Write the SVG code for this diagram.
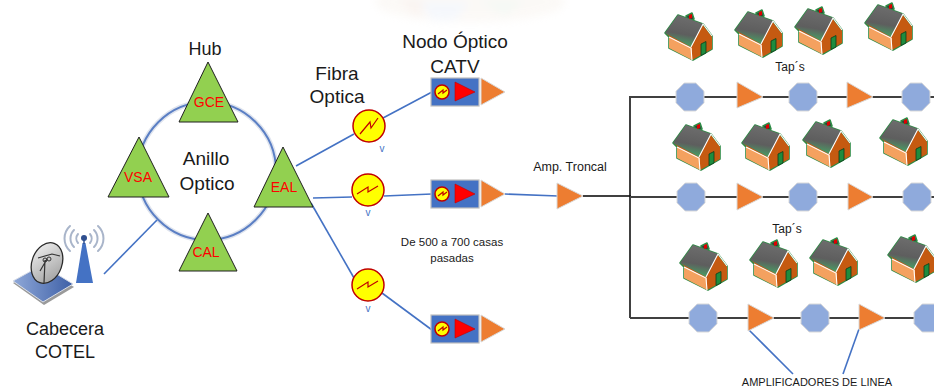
<svg xmlns="http://www.w3.org/2000/svg" width="934" height="389" viewBox="0 0 934 389">
  <style>
    text { font-family: "Liberation Sans", Arial, sans-serif; fill: #1a1a1a; }
    .mid { text-anchor: middle; }
    .big { font-size: 19px; }
    .hubtag { font-size: 14px; fill: #ff0000; text-anchor: middle; }
    .small { font-size: 12px; }
    .v { font-size: 10px; fill: #4472c4; text-anchor: middle; }
    .ring-halo { fill: none; stroke: #dfe4ee; stroke-width: 5; }
    .ring { fill: none; stroke: #5b7fc4; stroke-width: 2; }
    .hub { fill: #92d050; stroke: #1f1f1f; stroke-width: 1; }
    .fiber { fill: none; stroke: #4472c4; stroke-width: 1.6; }
    .coax { fill: none; stroke: #404040; stroke-width: 1.8; }
    .trunk { fill: none; stroke: #111; stroke-width: 1.6; }
    .rx { fill: #ffff00; stroke: #c00000; stroke-width: 1.5; }
    .zig { fill: none; stroke: #c00000; stroke-width: 1.2; }
    .amp { fill: #ed7d31; stroke: #d9d9d9; stroke-width: 1; }
    .tap { fill: #8faadc; stroke: #d9d9d9; stroke-width: 1; }
    .nodebox { fill: #4472c4; stroke: #bfbfbf; stroke-width: 1.2; }
    .wave { fill: none; stroke: #a9b5ca; stroke-width: 2; stroke-linecap: round; }
  </style>
  <defs>
    <linearGradient id="roofGrad" x1="0.6" y1="0" x2="0.4" y2="1">
      <stop offset="0" stop-color="#6e6e6e"/>
      <stop offset="0.6" stop-color="#5e5e5e"/>
      <stop offset="1" stop-color="#45a865"/>
    </linearGradient>
    <linearGradient id="dishGrad" x1="0" y1="0" x2="1" y2="1">
      <stop offset="0" stop-color="#f4f4f4"/>
      <stop offset="1" stop-color="#9a9a9a"/>
    </linearGradient>
    <linearGradient id="padGrad" x1="0" y1="0" x2="1" y2="0">
      <stop offset="0" stop-color="#8fa8d8"/>
      <stop offset="1" stop-color="#3d5fa6"/>
    </linearGradient>
    <filter id="haze" x="-20%" y="-50%" width="140%" height="200%">
      <feGaussianBlur stdDeviation="4"/>
    </filter>

    <!-- isometric house icon -->
    <symbol id="house" viewBox="0 0 52 56" width="52" height="56" overflow="visible">
      <g stroke="#2e8b46" stroke-width="1.6" stroke-linejoin="round">
        <path d="M23,10 L29,7 L31,13 L25,16 Z" fill="#3a3a3a"/>
        <path d="M2,27 L15,9 L40,18 L49,30 L49,43 L30,54 L6,42 L6,31 Z" fill="#c55a11"/>
      </g>
      <path d="M6,31 L29,42 L29,54 L6,42 Z" fill="#f4a15f"/>
      <path d="M29,42 L40,20 L49,31 L49,43 L29,54 Z" fill="#c55a11"/>
      <path d="M2,27 L15,9 L40,18 L28,41 Z" fill="url(#roofGrad)"/>
      <path d="M26,9 L29,8 L29,12 L26,13 Z" fill="#e00000"/>
      <path d="M28,41 L40,18 L49,30 M6,31 L28,42 L29,54" fill="none" stroke="#ffffff" stroke-width="1.1"/>
      <path d="M38,38 L43,35.5 L43,47 L38,49.5 Z" fill="#1e8c3e" stroke="#0b3d1a" stroke-width="0.8"/>
    </symbol>
  </defs>

  <rect width="934" height="389" fill="#ffffff"/>

  <!-- faint background emblem -->
  <g filter="url(#haze)" opacity="0.2">
    <ellipse cx="470" cy="2" rx="95" ry="20" fill="#efe3d6"/>
    <path d="M400,0 L425,0 L418,18 Z" fill="#e8c8b8"/>
    <path d="M420,2 L470,2 L455,20 L432,20 Z" fill="#cfdcf2"/>
    <path d="M478,0 L525,0 L505,16 Z" fill="#cfe2cf"/>
  </g>

  <!-- connectors -->
  <g id="connectors">
    <!-- optical ring -->
    <circle class="ring-halo" cx="207" cy="171" r="69"/>
    <circle class="ring" cx="207" cy="171" r="69"/>
    <!-- head-end to ring -->
    <line class="fiber" x1="104" y1="274" x2="157" y2="220"/>
    <!-- EAL to receivers -->
    <line class="fiber" x1="296" y1="166" x2="354" y2="134"/>
    <line class="fiber" x1="313" y1="198" x2="352" y2="197"/>
    <line class="fiber" x1="311" y1="203" x2="354" y2="278"/>
    <!-- receivers to nodes -->
    <line class="fiber" x1="383" y1="118" x2="432" y2="92"/>
    <line class="fiber" x1="384" y1="196" x2="432" y2="194"/>
    <line class="fiber" x1="382" y1="293" x2="432" y2="330"/>
    <!-- node to trunk amplifier -->
    <line class="fiber" x1="505" y1="194" x2="558" y2="196"/>
    <!-- trunk distribution -->
    <line class="coax" x1="583" y1="196" x2="631" y2="196"/>
    <line class="trunk" x1="630" y1="96" x2="630" y2="318"/>
    <line class="coax" x1="630" y1="97" x2="934" y2="97"/>
    <line class="coax" x1="630" y1="197" x2="934" y2="197"/>
    <line class="coax" x1="630" y1="318" x2="934" y2="318"/>
    <!-- line amplifier callouts -->
    <line class="fiber" x1="749" y1="330" x2="793" y2="374"/>
    <line class="fiber" x1="859" y1="329" x2="843" y2="374"/>
  </g>

  <!-- head-end -->
  <g id="cabecera">
    <path d="M13,283 L42,267 L74,287 L44,305 Z" fill="#9a9a9a"/>
    <path d="M13,281 L42,265 L73,284 L43,302 Z" fill="url(#padGrad)" stroke="#d8dde8" stroke-width="1"/>
    <ellipse cx="47" cy="263" rx="15" ry="21" transform="rotate(20 47 263)" fill="url(#dishGrad)" stroke="#2a2a2a" stroke-width="1.3"/>
    <path d="M38,258 L52,254 L60,256 M40,271 L47,259 M44,283 L45,260" fill="none" stroke="#333" stroke-width="1.2"/>
    <circle cx="45" cy="260" r="2" fill="none" stroke="#333" stroke-width="1"/>
    <circle cx="49" cy="259" r="2" fill="none" stroke="#333" stroke-width="1"/>
    <path d="M82.5,243 L85.5,243 L93,283 L76,283 Z" fill="#4472c4"/>
    <line x1="84" y1="238" x2="84" y2="244" stroke="#2f4f8f" stroke-width="1.5"/>
    <circle cx="84" cy="238" r="3" fill="#2f4f8f"/>
    <path class="wave" d="M78,234 A7,7 0 0 0 78,243"/>
    <path class="wave" d="M74,230 A12,12 0 0 0 74,247"/>
    <path class="wave" d="M70,226 A17,17 0 0 0 70,251"/>
    <path class="wave" d="M90,234 A7,7 0 0 1 90,243"/>
    <path class="wave" d="M94,230 A12,12 0 0 1 94,247"/>
    <path class="wave" d="M98,226 A17,17 0 0 1 98,251"/>
    <text class="big mid" x="65" y="335" style="font-size:18px">Cabecera</text>
    <text class="big mid" x="65" y="358" style="font-size:18px">COTEL</text>
  </g>

  <!-- hubs on the optical ring -->
  <g id="ring-label">
    <text class="mid" x="205" y="55" style="font-size:18px">Hub</text>
    <text class="big mid" x="206" y="165">Anillo</text>
    <text class="big mid" x="207" y="190">Optico</text>
  </g>
  <g id="hub-gce">
    <path class="hub" d="M208,62 L238,122 L179,122 Z"/>
    <text class="hubtag" x="209" y="107">GCE</text>
  </g>
  <g id="hub-vsa">
    <path class="hub" d="M139,137 L169,197 L108,197 Z"/>
    <text class="hubtag" x="138" y="182">VSA</text>
  </g>
  <g id="hub-eal">
    <path class="hub" d="M283,147 L313,207 L254,207 Z"/>
    <text class="hubtag" x="284" y="192">EAL</text>
  </g>
  <g id="hub-cal">
    <path class="hub" d="M208,213 L237,271 L179,271 Z"/>
    <text class="hubtag" x="206" y="257">CAL</text>
  </g>

  <!-- optical receivers -->
  <g id="fibra-label">
    <text class="big mid" x="337" y="80">Fibra</text>
    <text class="big mid" x="337" y="103">Optica</text>
  </g>
  <g id="rx-1">
    <circle class="rx" cx="369" cy="126" r="16"/>
    <path class="zig" d="M360,134 L370,122 L371,128 L378,118"/>
    <text class="v" x="382" y="152">v</text>
  </g>
  <g id="rx-2">
    <circle class="rx" cx="368" cy="190" r="16"/>
    <path class="zig" d="M357,194 L368,187 L368,192 L378,186"/>
    <text class="v" x="368" y="216">v</text>
  </g>
  <g id="rx-3">
    <circle class="rx" cx="368" cy="285" r="16"/>
    <path class="zig" d="M357,289 L368,282 L368,287 L378,281"/>
    <text class="v" x="368" y="312">v</text>
  </g>

  <!-- CATV optical nodes -->
  <g id="nodo-label">
    <text class="big mid" x="455" y="48">Nodo Óptico</text>
    <text class="big mid" x="455" y="73">CATV</text>
  </g>
  <g id="nodo-1" transform="translate(0,0)">
    <rect class="nodebox" x="431" y="78" width="48" height="28"/>
    <circle class="rx" cx="442" cy="92" r="7" stroke-width="1.2"/>
    <path class="zig" d="M438,94 L443,90 L443,93 L447,90" stroke-width="0.9"/>
    <path d="M455,82 L475,92 L455,101 Z" fill="#ff0000" stroke="#c00000" stroke-width="0.6"/>
    <path class="amp" d="M481,78 L505,92 L481,105 Z"/>
  </g>
  <g id="nodo-2" transform="translate(0,102)">
    <rect class="nodebox" x="431" y="78" width="48" height="28"/>
    <circle class="rx" cx="442" cy="92" r="7" stroke-width="1.2"/>
    <path class="zig" d="M438,94 L443,90 L443,93 L447,90" stroke-width="0.9"/>
    <path d="M455,82 L475,92 L455,101 Z" fill="#ff0000" stroke="#c00000" stroke-width="0.6"/>
    <path class="amp" d="M481,78 L505,92 L481,105 Z"/>
  </g>
  <g id="nodo-3" transform="translate(0,237)">
    <rect class="nodebox" x="431" y="78" width="48" height="28"/>
    <circle class="rx" cx="442" cy="92" r="7" stroke-width="1.2"/>
    <path class="zig" d="M438,94 L443,90 L443,93 L447,90" stroke-width="0.9"/>
    <path d="M455,82 L475,92 L455,101 Z" fill="#ff0000" stroke="#c00000" stroke-width="0.6"/>
    <path class="amp" d="M481,78 L505,92 L481,105 Z"/>
  </g>
  <g id="casas-label">
    <text class="mid" x="452" y="246" style="font-size:11.5px">De 500 a 700 casas</text>
    <text class="mid" x="452" y="262" style="font-size:11.5px">pasadas</text>
  </g>

  <!-- trunk amplifier -->
  <g id="amp-troncal">
    <text class="mid" x="570" y="171" style="font-size:12.5px">Amp. Troncal</text>
    <path class="amp" d="M557,183 L583,196 L557,209 Z"/>
  </g>

  <!-- distribution row 1 -->
  <g id="row-1">
    <polygon class="tap" points="684.2,83 695.8,83 704,91.2 704,102.8 695.8,111 684.2,111 676,102.8 676,91.2"/>
    <polygon class="tap" points="797.2,83 808.8,83 817,91.2 817,102.8 808.8,111 797.2,111 789,102.8 789,91.2"/>
    <polygon class="tap" points="910.2,83 921.8,83 930,91.2 930,102.8 921.8,111 910.2,111 902,102.8 902,91.2"/>
    <path class="amp" d="M737,82 L763,97 L737,108 Z"/>
    <path class="amp" d="M847,82 L873,97 L847,108 Z"/>
    <text class="small mid" x="790" y="71">Tap´s</text>
  </g>
  <!-- distribution row 2 -->
  <g id="row-2">
    <polygon class="tap" points="685.2,183 696.8,183 705,191.2 705,202.8 696.8,211 685.2,211 677,202.8 677,191.2"/>
    <polygon class="tap" points="797.2,183 808.8,183 817,191.2 817,202.8 808.8,211 797.2,211 789,202.8 789,191.2"/>
    <polygon class="tap" points="911.2,183 922.8,183 931,191.2 931,202.8 922.8,211 911.2,211 903,202.8 903,191.2"/>
    <path class="amp" d="M737,183 L763,197 L737,210 Z"/>
    <path class="amp" d="M848,183 L873,197 L848,210 Z"/>
    <text class="small mid" x="787" y="233">Tap´s</text>
  </g>
  <!-- distribution row 3 -->
  <g id="row-3">
    <polygon class="tap" points="697.2,304 708.8,304 717,312.2 717,323.8 708.8,332 697.2,332 689,323.8 689,312.2"/>
    <polygon class="tap" points="809.2,304 820.8,304 829,312.2 829,323.8 820.8,332 809.2,332 801,323.8 801,312.2"/>
    <polygon class="tap" points="922.2,304 933.8,304 942,312.2 942,323.8 933.8,332 922.2,332 914,323.8 914,312.2"/>
    <path class="amp" d="M748,304 L774,318 L748,331 Z"/>
    <path class="amp" d="M859,304 L885,318 L859,330 Z"/>
    <text class="mid" x="817" y="386" style="font-size:11px">AMPLIFICADORES DE LINEA</text>
  </g>

  <!-- homes passed -->
  <g id="casas">
    <use href="#house" x="663" y="6"/>
    <use href="#house" x="733" y="3"/>
    <use href="#house" x="793" y="0"/>
    <use href="#house" x="863" y="-4"/>
    <use href="#house" x="671" y="116"/>
    <use href="#house" x="740" y="116"/>
    <use href="#house" x="801" y="113"/>
    <use href="#house" x="878" y="111"/>
    <use href="#house" x="678" y="236"/>
    <use href="#house" x="748" y="233"/>
    <use href="#house" x="808" y="231"/>
    <use href="#house" x="886" y="228"/>
  </g>
</svg>
